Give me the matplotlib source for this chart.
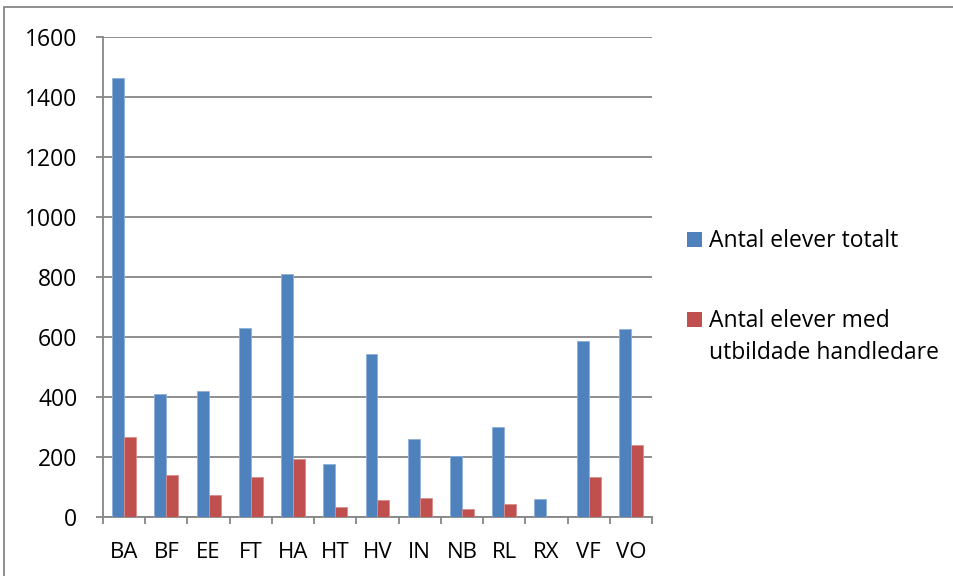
import matplotlib
matplotlib.use("Agg")
import matplotlib.pyplot as plt
from matplotlib.patches import Rectangle
import numpy as np

categories = ["BA", "BF", "EE", "FT", "HA", "HT", "HV", "IN", "NB", "RL", "RX", "VF", "VO"]
totalt = [1465, 410, 419, 630, 810, 176, 544, 260, 202, 299, 61, 587, 627]
med_handledare = [266, 141, 73, 132, 192, 33, 56, 64, 28, 44, 0, 134, 241]
series_labels = ["Antal elever totalt", "Antal elever med\nutbildade handledare"]
series_colors = ["#4F81BD", "#C0504D"]
yticks = [0, 200, 400, 600, 800, 1000, 1200, 1400, 1600]

W, H = 954, 576
plt.rcParams['font.family'] = ['Open Sans', 'DejaVu Sans']
fig = plt.figure(figsize=(W/100, H/100), dpi=100)
ax = fig.add_axes([103/W, 1-517/H, (652-103)/W, (517-37)/H])

grid_c = "#868686"
x = np.arange(len(categories))
bw = 0.284
ax.bar(x - bw/2, totalt, bw, color=series_colors[0], edgecolor="#8EB0DA", linewidth=0.6, zorder=3)
ax.bar(x + bw/2, med_handledare, bw, color=series_colors[1], edgecolor="#DA8E8C", linewidth=0.6, zorder=3)

ax.set_xlim(-0.5, len(categories) - 0.5)
ax.set_ylim(0, 1600)
ax.set_yticks(yticks)
ax.set_yticklabels([str(v) for v in yticks])
ax.yaxis.grid(True, color=grid_c, linewidth=1.3, zorder=0)
ax.set_axisbelow(True)
for s in ["top", "right"]:
    ax.spines[s].set_visible(False)
for s in ["left", "bottom"]:
    ax.spines[s].set_color(grid_c)
    ax.spines[s].set_linewidth(1.3)

ax.set_xticks(np.arange(len(categories) + 1) - 0.5, minor=True)
ax.set_xticks(x)
ax.set_xticklabels(categories)
ax.tick_params(axis="x", which="major", length=0, pad=18, labelsize=16)
ax.tick_params(axis="x", which="minor", length=5, color=grid_c, width=1.3)
ax.tick_params(axis="y", length=5, color=grid_c, width=1.3, labelsize=16.5, pad=13.5)

# Legend (drawn manually to match the Excel layout: marker aligned to first line)
def fpx(px, py):
    return px / W, 1 - py / H

sq = 15
leg_entries = [(232, [(247, series_labels[0])]),
               (312, [(327, series_labels[1].split("\n")[0]), (359, series_labels[1].split("\n")[1])])]
for (top, lines), col in zip(leg_entries, series_colors):
    x0, y0 = fpx(687, top + sq)
    fig.add_artist(Rectangle((x0, y0), sq / W, sq / H, transform=fig.transFigure,
                             facecolor=col, edgecolor="none"))
    for base, txt in lines:
        tx, ty = fpx(709, base)
        fig.text(tx, ty, txt, fontsize=16.5, va="baseline", ha="left", color="black")

fig.add_artist(Rectangle((4/W, -0.1), 1.2, 1 - 7/H + 0.1, transform=fig.transFigure,
                         fill=False, edgecolor=grid_c, linewidth=1.3))

fig.savefig("out.png", dpi=100)
